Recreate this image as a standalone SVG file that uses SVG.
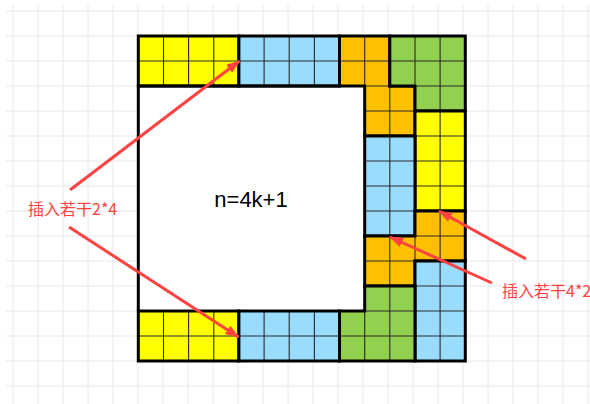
<svg xmlns="http://www.w3.org/2000/svg" width="590" height="404" viewBox="0 0 590 404">
<style>
.bg{stroke:#e8e8ee;stroke-width:1;fill:none}
.thin{stroke:#2a2a2a;stroke-width:1.1;fill:none}
.thick{stroke:#000;stroke-width:3;fill:none;stroke-linejoin:miter}
.y{fill:#ffff00}.b{fill:#99dcfe}.o{fill:#ffc000}.g{fill:#92d050}
.arr{stroke:#ff4343;stroke-width:3;fill:none;marker-end:url(#ah)}
.lbl{font-family:"Noto Sans CJK SC","Liberation Sans",sans-serif;font-size:16px;fill:#ff4343}
.n{font-family:"Liberation Sans",Arial,sans-serif;font-size:22px;fill:#000}
</style>
<defs>
<marker id="ah" markerUnits="userSpaceOnUse" markerWidth="16" markerHeight="12" refX="13" refY="5" orient="auto">
<path d="M0,0 L14,5 L0,10 Z" fill="#ff4343"/>
</marker>
</defs>
<rect width="590" height="404" fill="#fff"/>
<g id="background-grid">
<path class="bg" d="M13,5V404M38,5V404M63,5V404M88,5V404M113,5V404M138,5V404M163,5V404M188,5V404M213,5V404M238,5V404M263,5V404M288,5V404M313,5V404M338,5V404M363,5V404M388,5V404M413,5V404M438,5V404M463,5V404M488,5V404M513,5V404M538,5V404M563,5V404M588,5V404"/>
<path class="bg" d="M6,11H590M6,36H590M6,61H590M6,86H590M6,111H590M6,136H590M6,161H590M6,186H590M6,211H590M6,236H590M6,261H590M6,286H590M6,311H590M6,336H590M6,361H590M6,386H590"/>
</g>
<g id="inner-square">
<rect x="138.3" y="86" width="226.4" height="225" fill="#fff"/>
<text class="n" x="251" y="207" text-anchor="middle">n=4k+1</text>
</g>
<g id="yellow-top">
<rect class="y" x="138.3" y="36" width="100.6" height="50"/>
<path class="thin" d="M163.5,36V86M188.6,36V86M213.8,36V86M138.3,61H238.9"/>
<rect class="thick" x="138.3" y="36" width="100.6" height="50"/>
</g>
<g id="blue-top">
<rect class="b" x="238.9" y="36" width="100.6" height="50"/>
<path class="thin" d="M264.1,36V86M289.2,36V86M314.4,36V86M238.9,61H339.5"/>
<rect class="thick" x="238.9" y="36" width="100.6" height="50"/>
</g>
<g id="orange-top">
<path class="o" d="M339.5,36H389.8V86H415V136H364.7V86H339.5Z"/>
<path class="thin" d="M364.7,36V86M339.5,61H389.8M389.8,86V136M364.7,111H415M364.7,86H389.8"/>
<path class="thick" d="M339.5,36H389.8V86H415V136H364.7V86H339.5Z"/>
</g>
<g id="green-top">
<path class="g" d="M389.8,36H465.3V111H415V86H389.8Z"/>
<path class="thin" d="M415,36V86M440.1,36V111M389.8,61H465.3M415,86H465.3"/>
<path class="thick" d="M389.8,36H465.3V111H415V86H389.8Z"/>
</g>
<g id="yellow-right">
<rect class="y" x="415" y="111" width="50.3" height="100"/>
<path class="thin" d="M440.1,111V211M415,136H465.3M415,161H465.3M415,186H465.3"/>
<rect class="thick" x="415" y="111" width="50.3" height="100"/>
</g>
<g id="blue-right">
<rect class="b" x="364.7" y="136" width="50.3" height="100"/>
<path class="thin" d="M389.8,136V236M364.7,161H415M364.7,186H415M364.7,211H415"/>
<rect class="thick" x="364.7" y="136" width="50.3" height="100"/>
</g>
<g id="orange-right">
<path class="o" d="M415,211H465.3V261H415V286H364.7V236H415Z"/>
<path class="thin" d="M440.1,211V261M415,236H465.3M389.8,236V286M364.7,261H415M415,236V261"/>
<path class="thick" d="M415,211H465.3V261H415V286H364.7V236H415Z"/>
</g>
<g id="blue-corner">
<rect class="b" x="415" y="261" width="50.3" height="100"/>
<path class="thin" d="M440.1,261V361M415,286H465.3M415,311H465.3M415,336H465.3"/>
<rect class="thick" x="415" y="261" width="50.3" height="100"/>
</g>
<g id="green-bottom">
<path class="g" d="M364.7,286H415V361H339.5V311H364.7Z"/>
<path class="thin" d="M389.8,286V361M364.7,311V361M364.7,311H415M339.5,336H415"/>
<path class="thick" d="M364.7,286H415V361H339.5V311H364.7Z"/>
</g>
<g id="yellow-bottom">
<rect class="y" x="138.3" y="311" width="100.6" height="50"/>
<path class="thin" d="M163.5,311V361M188.6,311V361M213.8,311V361M138.3,336H238.9"/>
<rect class="thick" x="138.3" y="311" width="100.6" height="50"/>
</g>
<g id="blue-bottom">
<rect class="b" x="238.9" y="311" width="100.6" height="50"/>
<path class="thin" d="M264.1,311V361M289.2,311V361M314.4,311V361M238.9,336H339.5"/>
<rect class="thick" x="238.9" y="311" width="100.6" height="50"/>
</g>
<g id="inner-border">
<path class="thick" d="M138.3,311V86H339.5"/>
</g>
<g id="label-left">
<text class="lbl" x="28" y="215">插入若干2*4</text>
</g>
<g id="label-right">
<text class="lbl" x="502" y="297">插入若干4*2</text>
</g>
<g id="connectors">
<path class="arr" d="M70,190L239.5,61"/>
<path class="arr" d="M69,227L238.5,337"/>
<path class="arr" d="M526,259L439,211"/>
<path class="arr" d="M492,283L390,237"/>
</g>
</svg>
